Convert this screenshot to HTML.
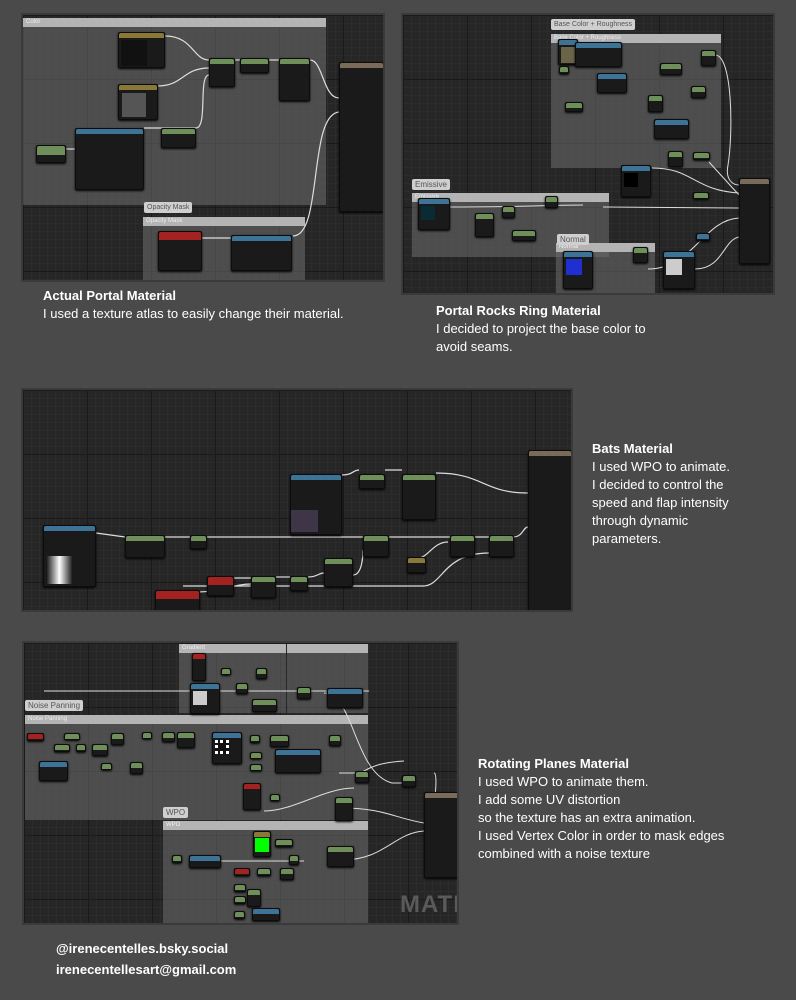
<!DOCTYPE html>
<html><head><meta charset="utf-8">
<style>
*{margin:0;padding:0;box-sizing:border-box}
body{width:796px;height:1000px;background:#4a4a4a;position:relative;overflow:hidden;font-family:"Liberation Sans",sans-serif}
.p{position:absolute;background-color:#262626;background-image:linear-gradient(#1a1a1a 1px,transparent 1px),linear-gradient(90deg,#1a1a1a 1px,transparent 1px),linear-gradient(#2c2c2c 1px,transparent 1px),linear-gradient(90deg,#2c2c2c 1px,transparent 1px);background-size:64px 64px,64px 64px,8px 8px,8px 8px;overflow:hidden;border:2px solid #3a3a3a}
.c{position:absolute;background:rgba(110,110,110,.55);border-top:9px solid #b4b4b4}
.c span{position:absolute;top:-9px;left:3px;font-size:6px;color:#eee;line-height:9px}
.lb{position:absolute;background:#cfcfcf;color:#555;font-size:7px;line-height:11px;padding:0 3px;border-radius:2px}
.n{position:absolute;background:#1a1a1a;border:1px solid #0c0c0c;border-radius:2px;box-shadow:0 1px 2px #000}
.n i{display:block;height:5px;border-radius:2px 2px 0 0}
.g i{background:#6f8f5a}.b i{background:#3c7396}.r i{background:#a52222}.y i{background:#8a7838}.o i{background:#7a6a5a}
.w{position:absolute;left:0;top:0}
.t{position:absolute;color:#fff;font-size:13px;line-height:18px}
.t b{font-weight:bold}
</style></head><body>

<!-- Panel 1 -->
<div class="p" style="left:21px;top:13px;width:364px;height:269px">
 <div class="c" style="left:0;top:3px;width:303px;height:187px"><span>Color</span></div>
 <div class="c" style="left:120px;top:202px;width:162px;height:70px"><span>Opacity Mask</span></div>
 <div class="lb" style="left:121px;top:187px">Opacity Mask</div>
 <svg class="w" width="364" height="269" fill="none" stroke="#ddd" stroke-width="1.2">
  <path d="M142 21 C170 21,170 45,186 45"/><path d="M135 71 C160 71,160 53,186 53"/>
  <path d="M121 113 L173 113"/><path d="M173 113 C185 113,175 60,186 60"/>
  <path d="M43 134 L52 134"/><path d="M212 45 L217 45"/><path d="M246 45 L256 45"/>
  <path d="M287 45 C300 45,300 83,316 83"/><path d="M270 221 C300 221,285 100,316 97"/>
  <path d="M178 223 L208 223"/>
 </svg>
 <div class="n y" style="left:95px;top:17px;width:47px;height:36px"><i></i><div style="margin:2px;width:26px;height:26px;background:#111"></div></div>
 <div class="n y" style="left:95px;top:69px;width:40px;height:36px"><i></i><div style="margin:3px;width:24px;height:24px;background:#555"></div></div>
 <div class="n b" style="left:52px;top:113px;width:69px;height:62px"><i></i></div>
 <div class="n g" style="left:13px;top:130px;width:30px;height:18px"><i style="height:9px"></i></div>
 <div class="n g" style="left:138px;top:113px;width:35px;height:20px"><i></i></div>
 <div class="n g" style="left:186px;top:43px;width:26px;height:29px"><i></i></div>
 <div class="n g" style="left:217px;top:43px;width:29px;height:15px"><i></i></div>
 <div class="n g" style="left:256px;top:43px;width:31px;height:43px"><i></i></div>
 <div class="n o" style="left:316px;top:47px;width:45px;height:150px"><i></i></div>
 <div class="n r" style="left:135px;top:216px;width:44px;height:40px"><i style="height:8px"></i></div>
 <div class="n b" style="left:208px;top:220px;width:61px;height:36px"><i></i></div>
</div>

<!-- Panel 2 -->
<div class="p" style="left:401px;top:13px;width:374px;height:282px">
 <div class="c" style="left:148px;top:19px;width:170px;height:134px"><span>Base Color + Roughness</span></div>
 <div class="lb" style="left:148px;top:4px">Base Color + Roughness</div>
 <div class="c" style="left:9px;top:178px;width:197px;height:64px"><span>Emissive</span></div>
 <div class="lb" style="left:9px;top:164px;font-size:8px">Emissive</div>
 <div class="c" style="left:153px;top:228px;width:99px;height:54px"><span>Normal</span></div>
 <div class="lb" style="left:154px;top:219px;font-size:8px">Normal</div>
 <svg class="w" width="374" height="282" fill="none" stroke="#ddd" stroke-width="1">
  <path d="M312 40 C330 40,330 120,325 150 C322 165,330 170,336 170"/>
  <path d="M249 153 C290 153,290 175,336 178"/><path d="M200 192 C250 192,300 193,336 193"/>
  <path d="M46 192 C120 192,150 190,180 190"/>
  <path d="M245 254 C290 254,300 205,336 203"/><path d="M292 254 C320 254,320 225,336 222"/>
  <path d="M306 147 L336 180"/>
 </svg>
 <div class="n b" style="left:155px;top:24px;width:20px;height:26px"><i></i><div style="margin:2px;height:16px;background:#6a6448"></div></div>
 <div class="n b" style="left:172px;top:27px;width:47px;height:25px"><i></i></div>
 <div class="n g" style="left:156px;top:51px;width:10px;height:8px"><i></i></div>
 <div class="n b" style="left:194px;top:58px;width:30px;height:20px"><i></i></div>
 <div class="n g" style="left:257px;top:48px;width:22px;height:12px"><i></i></div>
 <div class="n g" style="left:298px;top:35px;width:15px;height:16px"><i></i></div>
 <div class="n g" style="left:162px;top:87px;width:18px;height:10px"><i></i></div>
 <div class="n b" style="left:251px;top:104px;width:35px;height:20px"><i></i></div>
 <div class="n g" style="left:265px;top:136px;width:15px;height:16px"><i></i></div>
 <div class="n g" style="left:290px;top:137px;width:17px;height:8px"><i></i></div>
 <div class="n g" style="left:245px;top:80px;width:15px;height:17px"><i></i></div>
 <div class="n g" style="left:288px;top:71px;width:15px;height:12px"><i></i></div>
 <div class="n b" style="left:218px;top:150px;width:30px;height:32px"><i></i><div style="margin:2px;width:14px;height:14px;background:#000"></div></div>
 <div class="n g" style="left:290px;top:177px;width:16px;height:7px"><i></i></div>
 <div class="n o" style="left:336px;top:163px;width:31px;height:86px"><i></i></div>
 <div class="n b" style="left:15px;top:183px;width:32px;height:32px"><i></i><div style="margin:2px;width:14px;height:14px;background:#0a2a36"></div></div>
 <div class="n g" style="left:72px;top:198px;width:19px;height:24px"><i></i></div>
 <div class="n g" style="left:99px;top:191px;width:13px;height:12px"><i></i></div>
 <div class="n g" style="left:142px;top:181px;width:13px;height:12px"><i></i></div>
 <div class="n g" style="left:109px;top:215px;width:24px;height:11px"><i></i></div>
 <div class="n b" style="left:160px;top:236px;width:30px;height:38px"><i></i><div style="margin:2px;width:16px;height:16px;background:#2030d0"></div></div>
 <div class="n b" style="left:260px;top:236px;width:32px;height:38px"><i></i><div style="margin:2px;width:16px;height:16px;background:#ccc"></div></div>
 <div class="n g" style="left:230px;top:232px;width:15px;height:16px"><i></i></div>
 <div class="n b" style="left:293px;top:218px;width:14px;height:8px"><i></i></div>
</div>

<!-- Panel 3 -->
<div class="p" style="left:21px;top:388px;width:552px;height:224px">
 <svg class="w" width="552" height="224" fill="none" stroke="#ddd" stroke-width="1.2">
  <path d="M73 143 L102 147 L474 147"/><path d="M319 85 C330 85,330 80,336 80"/><path d="M362 80 L379 80"/>
  <path d="M413 83 C460 83,460 103,505 103"/><path d="M490 147 C500 147,500 137,505 137"/>
  <path d="M160 196 C245 196,320 196,400 196 C420 196,420 163,466 163"/>
  <path d="M395 168 C405 168,410 152,425 152"/><path d="M253 187 L267 187"/><path d="M285 187 C295 187,295 183,301 183"/>
  <path d="M330 185 C340 185,340 162,340 160"/><path d="M211 188 L228 188"/><path d="M175 202 C200 202,210 194,228 194"/>
 </svg>
 <div class="n b" style="left:20px;top:135px;width:53px;height:62px"><i></i><div style="margin:25px 0 0 3px;width:25px;height:28px;background:linear-gradient(90deg,#222,#fff,#222)"></div></div>
 <div class="n g" style="left:102px;top:145px;width:40px;height:23px"><i></i></div>
 <div class="n g" style="left:167px;top:145px;width:17px;height:14px"><i></i></div>
 <div class="n b" style="left:267px;top:84px;width:52px;height:61px"><i></i><div style="margin:30px 0 0 0;width:27px;height:22px;background:#3e3548"></div></div>
 <div class="n g" style="left:336px;top:84px;width:26px;height:15px"><i></i></div>
 <div class="n g" style="left:379px;top:84px;width:34px;height:46px"><i></i></div>
 <div class="n g" style="left:340px;top:145px;width:26px;height:22px"><i></i></div>
 <div class="n g" style="left:427px;top:145px;width:25px;height:22px"><i></i></div>
 <div class="n g" style="left:466px;top:145px;width:25px;height:22px"><i></i></div>
 <div class="n y" style="left:384px;top:167px;width:19px;height:16px"><i></i></div>
 <div class="n g" style="left:301px;top:168px;width:29px;height:29px"><i></i></div>
 <div class="n g" style="left:267px;top:186px;width:18px;height:15px"><i></i></div>
 <div class="n g" style="left:228px;top:186px;width:25px;height:22px"><i></i></div>
 <div class="n r" style="left:184px;top:186px;width:27px;height:20px"><i style="height:8px"></i></div>
 <div class="n r" style="left:132px;top:200px;width:45px;height:30px"><i style="height:8px"></i></div>
 <div class="n o" style="left:505px;top:60px;width:44px;height:161px"><i></i></div>
</div>

<!-- Panel 4 -->
<div class="p" style="left:22px;top:641px;width:437px;height:284px">
 <div class="c" style="left:155px;top:1px;width:107px;height:69px"><span>Gradient</span></div>
 <div class="c" style="left:263px;top:1px;width:81px;height:69px"><span></span></div>
 <div class="c" style="left:1px;top:72px;width:343px;height:105px"><span>Noise Panning</span></div>
 <div class="lb" style="left:1px;top:57px;font-size:8px">Noise Panning</div>
 <div class="c" style="left:139px;top:178px;width:205px;height:110px"><span>WPO</span></div>
 <div class="lb" style="left:139px;top:164px;font-size:8px">WPO</div>
 <div style="position:absolute;left:376px;top:248px;color:#5a5a5a;font-weight:bold;font-size:24px;letter-spacing:1px">MATE</div>
 <svg class="w" width="437" height="284" fill="none" stroke="#ddd" stroke-width="1">
  <path d="M300 50 C330 50,330 130,368 140 L380 140"/><path d="M315 130 L335 130 C340 130,345 120,380 118"/>
  <path d="M410 130 C415 130,410 180,400 176"/><path d="M317 165 C360 165,370 175,400 180"/>
  <path d="M318 217 C360 217,370 190,400 188"/><path d="M20 48 L345 48"/>
  <path d="M240 168 C270 168,300 145,330 145"/><path d="M170 218 L280 218"/>
 </svg>
 <div class="n r" style="left:168px;top:10px;width:14px;height:28px"><i></i></div>
 <div class="n b" style="left:166px;top:40px;width:30px;height:31px"><i></i><div style="margin:2px;width:14px;height:14px;background:#ccc"></div></div>
 <div class="n g" style="left:197px;top:25px;width:10px;height:7px"><i></i></div>
 <div class="n g" style="left:212px;top:40px;width:12px;height:11px"><i></i></div>
 <div class="n g" style="left:232px;top:25px;width:11px;height:11px"><i></i></div>
 <div class="n g" style="left:228px;top:56px;width:25px;height:13px"><i></i></div>
 <div class="n g" style="left:273px;top:44px;width:14px;height:12px"><i></i></div>
 <div class="n b" style="left:303px;top:45px;width:36px;height:20px"><i></i></div>
 <div class="n r" style="left:3px;top:90px;width:17px;height:8px"><i></i></div>
 <div class="n g" style="left:40px;top:90px;width:16px;height:7px"><i></i></div>
 <div class="n g" style="left:30px;top:101px;width:16px;height:8px"><i></i></div>
 <div class="n g" style="left:52px;top:101px;width:10px;height:8px"><i></i></div>
 <div class="n g" style="left:68px;top:101px;width:16px;height:12px"><i></i></div>
 <div class="n g" style="left:87px;top:90px;width:13px;height:12px"><i></i></div>
 <div class="n b" style="left:15px;top:118px;width:29px;height:20px"><i></i></div>
 <div class="n g" style="left:77px;top:120px;width:11px;height:7px"><i></i></div>
 <div class="n g" style="left:106px;top:119px;width:13px;height:12px"><i></i></div>
 <div class="n g" style="left:118px;top:89px;width:10px;height:7px"><i></i></div>
 <div class="n g" style="left:138px;top:89px;width:13px;height:10px"><i></i></div>
 <div class="n g" style="left:153px;top:89px;width:18px;height:16px"><i></i></div>
 <div class="n b" style="left:188px;top:89px;width:30px;height:32px"><i></i><div style="margin:2px;width:14px;height:14px;background:#111;border:3px dotted #fff"></div></div>
 <div class="n g" style="left:226px;top:92px;width:10px;height:8px"><i></i></div>
 <div class="n b" style="left:251px;top:106px;width:46px;height:24px"><i></i></div>
 <div class="n g" style="left:246px;top:92px;width:19px;height:12px"><i></i></div>
 <div class="n g" style="left:305px;top:92px;width:12px;height:11px"><i></i></div>
 <div class="n g" style="left:226px;top:109px;width:12px;height:7px"><i></i></div>
 <div class="n g" style="left:226px;top:121px;width:12px;height:7px"><i></i></div>
 <div class="n g" style="left:331px;top:128px;width:14px;height:12px"><i></i></div>
 <div class="n r" style="left:219px;top:140px;width:18px;height:27px"><i></i></div>
 <div class="n g" style="left:246px;top:151px;width:10px;height:7px"><i></i></div>
 <div class="n g" style="left:311px;top:154px;width:18px;height:24px"><i></i></div>
 <div class="n g" style="left:378px;top:132px;width:14px;height:12px"><i></i></div>
 <div class="n o" style="left:400px;top:149px;width:37px;height:86px"><i></i></div>
 <div class="n y" style="left:229px;top:188px;width:18px;height:26px"><i></i><div style="margin:1px;width:14px;height:14px;background:#0f0"></div></div>
 <div class="n g" style="left:251px;top:196px;width:18px;height:8px"><i></i></div>
 <div class="n g" style="left:303px;top:203px;width:27px;height:21px"><i></i></div>
 <div class="n g" style="left:148px;top:212px;width:10px;height:8px"><i></i></div>
 <div class="n b" style="left:165px;top:212px;width:32px;height:13px"><i></i></div>
 <div class="n g" style="left:265px;top:212px;width:10px;height:10px"><i></i></div>
 <div class="n r" style="left:210px;top:225px;width:16px;height:8px"><i></i></div>
 <div class="n g" style="left:233px;top:225px;width:14px;height:8px"><i></i></div>
 <div class="n g" style="left:256px;top:225px;width:14px;height:12px"><i></i></div>
 <div class="n g" style="left:210px;top:241px;width:12px;height:8px"><i></i></div>
 <div class="n g" style="left:210px;top:253px;width:12px;height:8px"><i></i></div>
 <div class="n g" style="left:223px;top:246px;width:14px;height:18px"><i></i></div>
 <div class="n g" style="left:210px;top:268px;width:11px;height:8px"><i></i></div>
 <div class="n b" style="left:228px;top:265px;width:28px;height:13px"><i></i></div>
</div>

<div class="t" style="left:43px;top:287px"><b>Actual Portal Material</b><br>I used a texture atlas to easily change their material.</div>
<div class="t" style="left:436px;top:302px"><b>Portal Rocks Ring Material</b><br>I decided to project the base color to<br>avoid seams.</div>
<div class="t" style="left:592px;top:440px"><b>Bats Material</b><br>I used WPO to animate.<br>I decided to control the<br>speed and flap intensity<br>through dynamic<br>parameters.</div>
<div class="t" style="left:478px;top:755px"><b>Rotating Planes Material</b><br>I used WPO to animate them.<br>I add some UV distortion<br>so the texture has an extra animation.<br>I used Vertex Color in order to mask edges<br>combined with a noise texture</div>
<div class="t" style="left:56px;top:938px;line-height:21px"><b>@irenecentelles.bsky.social<br>irenecentellesart@gmail.com</b></div>
</body></html>
